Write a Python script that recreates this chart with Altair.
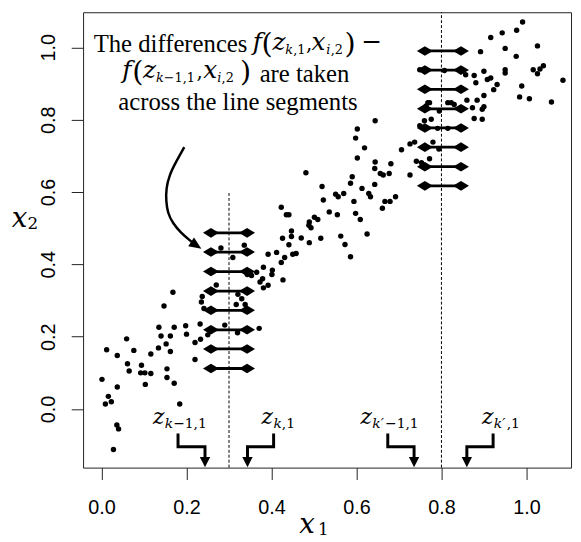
import altair as alt
import pandas as pd

# ---------------- data ----------------
x1_vals = [0.001, 0.012, 0.009, 0.016, 0.023, 0.028, 0.036, 0.040, 0.037, 0.037,
           0.059, 0.061, 0.065, 0.076, 0.094, 0.092, 0.102, 0.103, 0.116, 0.116,
           0.134, 0.135, 0.140, 0.147, 0.152, 0.154, 0.154, 0.162, 0.162, 0.168,
           0.171, 0.171, 0.184, 0.198, 0.200, 0.220, 0.220, 0.232, 0.233, 0.237,
           0.235, 0.241, 0.250, 0.270, 0.290, 0.317, 0.320, 0.321, 0.330, 0.338,
           0.371, 0.343, 0.353, 0.373, 0.379, 0.381, 0.392, 0.401, 0.427,
           0.423, 0.435, 0.426, 0.447, 0.281, 0.309, 0.336, 0.392, 0.412, 0.423,
           0.381, 0.365, 0.402, 0.431, 0.450,
           0.991, 0.977, 0.943, 0.916, 1.026, 0.950, 0.892, 0.976, 1.040, 1.032,
           1.016, 1.026, 0.950, 0.950, 0.900, 0.916, 0.908, 0.931, 0.923, 1.086,
           0.877, 0.881, 0.807, 0.857, 0.989, 0.984, 1.007, 1.059, 0.900, 0.884,
           0.860, 0.873, 0.900, 0.896, 0.877, 0.896, 0.823, 0.815, 0.795, 0.768,
           0.764, 0.776, 0.760, 0.749, 0.753, 0.791, 0.815, 0.780, 0.794, 0.757,
           0.737, 0.726, 0.706, 0.772, 0.741, 0.753, 0.760, 0.726, 0.644, 0.602,
           0.598, 0.619, 0.602, 0.644, 0.643, 0.681, 0.656, 0.663, 0.677, 0.481,
           0.590, 0.586, 0.613, 0.643, 0.519, 0.551, 0.557, 0.570, 0.522, 0.594,
           0.629, 0.633, 0.667, 0.679, 0.692, 0.661, 0.536, 0.555, 0.598, 0.609,
           0.501, 0.509, 0.489, 0.488, 0.493, 0.441, 0.447, 0.470, 0.489, 0.516,
           0.563, 0.573, 0.625, 0.458, 0.586, 0.441, 0.749, 0.772, 0.830]
x2_vals = [0.082, 0.164, 0.014, 0.035, 0.020, -0.112, -0.044, -0.055, 0.148, 0.061,
           0.194, 0.125, 0.105, 0.162, 0.121, 0.100, 0.100, 0.068, 0.098, 0.152,
           0.169, 0.226, 0.202, 0.285, 0.180, 0.111, 0.087, 0.202, 0.159, 0.323,
           0.226, 0.071, 0.014, 0.230, 0.207, 0.184, 0.137, 0.235, 0.193, 0.311,
           0.296, 0.278, 0.205, 0.343, 0.232, 0.289, 0.211, 0.317, 0.305, 0.289,
           0.223, 0.372, 0.369, 0.351, 0.360, 0.335, 0.342, 0.372, 0.357,
           0.558, 0.537, 0.472, 0.477, 0.445, 0.419, 0.453, 0.428, 0.433, 0.405,
           0.392, 0.378, 0.384, 0.419, 0.428,
           1.070, 1.047, 1.040, 1.027, 1.004, 0.997, 0.988, 0.975, 0.949, 0.940,
           0.938, 0.927, 0.938, 0.929, 0.934, 0.915, 0.911, 0.897, 0.883, 0.909,
           0.922, 0.902, 0.936, 0.924, 0.893, 0.863, 0.858, 0.849, 0.867, 0.854,
           0.854, 0.833, 0.836, 0.829, 0.803, 0.801, 0.847, 0.847, 0.824, 0.847,
           0.838, 0.801, 0.797, 0.783, 0.779, 0.776, 0.776, 0.738, 0.719, 0.724,
           0.738, 0.733, 0.717, 0.692, 0.685, 0.681, 0.674, 0.647, 0.797, 0.774,
           0.749, 0.722, 0.694, 0.683, 0.665, 0.678, 0.651, 0.647, 0.651, 0.653,
           0.642, 0.624, 0.610, 0.621, 0.615, 0.594, 0.587, 0.596, 0.578, 0.574,
           0.596, 0.587, 0.574, 0.574, 0.587, 0.555, 0.545, 0.537, 0.541, 0.524,
           0.530, 0.524, 0.517, 0.508, 0.501, 0.537, 0.492, 0.473, 0.460, 0.472,
           0.478, 0.455, 0.484, 0.430, 0.421, 0.454, 0.938, 0.847, 0.842]

tick_vals = [0.0, 0.2, 0.4, 0.6, 0.8, 1.0]
x_dom = [-0.0435, 1.105]
y_dom = [-0.162, 1.097]

# dashed cut lines
cut_x = [0.3, 0.8]
cut_top = [0.6, 1.097]

# double-headed segments
seg_lo = [0.2575, 0.761]
seg_hi = [0.3425, 0.846]
seg_left_y = [0.112, 0.166, 0.219, 0.273, 0.326, 0.380, 0.434, 0.487]
seg_right_y = [0.617, 0.670, 0.724, 0.777, 0.830, 0.884, 0.937, 0.990]

# bent pointer arrows at the bottom
bend_from = [0.180, 0.405, 0.6737, 0.9216]
bend_to = [0.2435, 0.3435, 0.7356, 0.8598]
bend_levels = [-0.068, -0.1046, -0.1046, -0.140]
tip_y = -0.161

# curved arrow
curve_x = [0.1947, 0.1751, 0.1597, 0.1519, 0.1519, 0.1558, 0.1674, 0.1867, 0.2100, 0.2250]
curve_y = [0.724, 0.683, 0.647, 0.610, 0.574, 0.542, 0.514, 0.487, 0.464, 0.450]
curve_tip = (0.2350, 0.4430)

SERIF = "Liberation Serif, Times New Roman, Times, serif"
MATH = "DejaVu Serif"

# text pieces: (text, x, y, size)
plain_txt = [("The differences", -0.0186, 0.986, 25),
             ("are taken", 0.3721, 0.9044, 25),
             ("across the line segments", 0.0395, 0.828, 25)]
ital_txt = [("f", 0.3558, 0.992, 25), ("z", 0.4023, 0.992, 25), ("k", 0.4326, 0.981, 13),
            ("x", 0.4942, 0.992, 25), ("i", 0.5291, 0.981, 13),
            ("f", 0.0488, 0.9153, 25), ("z", 0.0977, 0.9153, 25), ("k", 0.1279, 0.904, 13),
            ("x", 0.2395, 0.9153, 25), ("i", 0.2721, 0.904, 13),
            ("z", 0.1209, -0.041, 22), ("k", 0.1488, -0.0519, 14),
            ("z", 0.3767, -0.041, 22), ("k", 0.4047, -0.0519, 14),
            ("z", 0.6093, -0.041, 22), ("k\u2032", 0.6372, -0.0519, 14),
            ("z", 0.8953, -0.041, 22), ("k\u2032", 0.9233, -0.0519, 14),
            ("x", 0.4651, -0.3415, 28), ("x", -0.2116, 0.5027, 28)]
up_txt = [("(", 0.3767, 0.984, 29), (",1", 0.4512, 0.981, 13), (",", 0.4814, 0.992, 20),
          (",2", 0.5395, 0.981, 13), (")", 0.5721, 0.984, 29), ("\u2212", 0.611, 0.992, 25),
          ("(", 0.0721, 0.907, 29), ("\u22121,1", 0.1465, 0.904, 13), (",", 0.2233, 0.9153, 20),
          (",2", 0.2826, 0.904, 13), (")", 0.3256, 0.907, 29),
          ("\u22121,1", 0.1686, -0.0519, 14), (",1", 0.4244, -0.0519, 14),
          ("\u22121,1", 0.6674, -0.0519, 14), (",1", 0.9535, -0.0519, 14),
          ("1", 0.5093, -0.347, 17), ("2", -0.1744, 0.4973, 17)]

# ---------------- tables ----------------
pts = pd.DataFrame({"x": x1_vals, "y": x2_vals})
cuts = pd.DataFrame({"x": cut_x, "y": [y_dom[0]] * 2, "y2": cut_top})
segs = pd.DataFrame(
    [{"x": seg_lo[0], "x2": seg_hi[0], "y": v} for v in seg_left_y]
    + [{"x": seg_lo[1], "x2": seg_hi[1], "y": v} for v in seg_right_y])
heads = pd.DataFrame(
    [{"x": r["x"], "y": r["y"]} for _, r in segs.iterrows()]
    + [{"x": r["x2"], "y": r["y"]} for _, r in segs.iterrows()])
bend_rows = []
for g, (a, b) in enumerate(zip(bend_from, bend_to)):
    xs = [a, a, b, b]
    for o, (xx, yy) in enumerate(zip(xs, bend_levels)):
        bend_rows.append({"g": g, "o": o, "x": xx, "y": yy})
bends = pd.DataFrame(bend_rows)
tips = pd.DataFrame({"x": bend_to, "y": [tip_y] * 4})
curve = pd.DataFrame({"x": curve_x, "y": curve_y, "o": list(range(len(curve_x)))})
ctip = pd.DataFrame({"x": [curve_tip[0]], "y": [curve_tip[1]]})


def tdf(rows):
    return pd.DataFrame(rows, columns=["t", "x", "y", "s"])


# ---------------- encodings ----------------
SANS = "Liberation Sans, Arial, Helvetica, sans-serif"
xaxis = alt.Axis(values=tick_vals, format=".1f", title=None, grid=False, domain=False,
                 tickSize=12, tickColor="#222", tickWidth=1, labelFont=SANS,
                 labelFontSize=20, labelColor="black", labelPadding=18,
                 labelFlush=False, labelOverlap=False)
yaxis = alt.Axis(values=tick_vals, format=".1f", title=None, grid=False, domain=False,
                 tickSize=12, tickColor="#222", tickWidth=1, labelFont=SANS,
                 labelFontSize=20, labelColor="black", labelAngle=270,
                 labelAlign="center", labelBaseline="bottom", labelPadding=13,
                 labelFlush=False, labelOverlap=False)
X = alt.X("x:Q", scale=alt.Scale(domain=x_dom, nice=False, zero=False), axis=xaxis)
Y = alt.Y("y:Q", scale=alt.Scale(domain=y_dom, nice=False, zero=False), axis=yaxis)

points = alt.Chart(pts).mark_circle(size=30, color="black", opacity=1).encode(x=X, y=Y)

cut_lines = alt.Chart(cuts).mark_rule(color="black", strokeWidth=1, strokeDash=[3, 2]).encode(
    x=X, y=Y, y2="y2:Q")

seg_lines = alt.Chart(segs).mark_rule(color="black", strokeWidth=2.8).encode(
    x=X, x2="x2:Q", y=Y)

diamond = "M-1,0L0,-0.6L1,0L0,0.6Z"
seg_heads = alt.Chart(heads).mark_point(shape=diamond, size=260, filled=True,
                                        color="black", opacity=1).encode(x=X, y=Y)

bend_lines = alt.Chart(bends).mark_line(color="black", strokeWidth=3, strokeJoin="miter").encode(
    x=X, y=Y, detail="g:N", order="o:Q")

tri = "M-1,-2L1,-2L0,0Z"
tip_marks = alt.Chart(tips).mark_point(shape=tri, size=110, filled=True,
                                       color="black", opacity=1).encode(x=X, y=Y)

curve_line = alt.Chart(curve).mark_line(color="black", strokeWidth=2.5,
                                        interpolate="basis").encode(x=X, y=Y, order="o:Q")
curve_head = alt.Chart(ctip).mark_point(shape="M-1,-2.4L1,-2.4L0,0Z", size=110, filled=True,
                                        color="black", opacity=1, angle=304).encode(x=X, y=Y)


def text_layer(rows, font, style):
    return alt.Chart(tdf(rows)).mark_text(font=font, fontStyle=style, align="left",
                                          baseline="alphabetic", color="black").encode(
        x=X, y=Y, text="t:N", size=alt.Size("s:Q", scale=None))


t_plain = text_layer(plain_txt, SERIF, "normal")
t_ital = text_layer(ital_txt, MATH, "italic")
t_up = text_layer(up_txt, MATH, "normal")

chart = alt.layer(points, cut_lines, seg_lines, seg_heads, bend_lines, tip_marks,
                  curve_line, curve_head, t_plain, t_ital, t_up).properties(
    width=494, height=461,
    autosize=alt.AutoSizeParams(type="none"),
    padding={"left": 76, "top": 1, "right": 2, "bottom": 70},
    background="white",
).configure_view(stroke="#222", strokeWidth=1)

chart.save("out.html", embed_options={"renderer": "svg", "actions": False})
